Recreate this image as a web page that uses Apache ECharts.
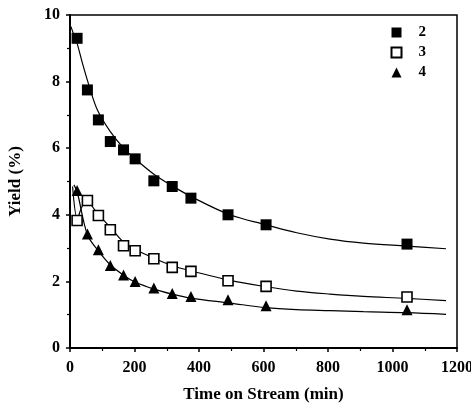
<!DOCTYPE html>
<html>
<head>
<meta charset="utf-8">
<script src="https://cdn.jsdelivr.net/npm/echarts@6/dist/echarts.min.js"></script>
<style>
  html, body { margin: 0; padding: 0; background: #fff; }
  #chart { width: 471px; height: 403px; }
</style>
</head>
<body>
<div id="chart"></div>
<script>
// Sampling times (min)
const times = [22, 54, 88, 125, 166, 202, 260, 317, 375, 490, 608, 1045];

// Measured yields (%)
const yield2 = [9.3, 7.75, 6.85, 6.2, 5.95, 5.68, 5.02, 4.85, 4.5, 4.0, 3.7, 3.12];
const yield3 = [3.83, 4.43, 3.98, 3.55, 3.07, 2.92, 2.68, 2.42, 2.30, 2.02, 1.85, 1.53];
const yield4 = [4.73, 3.42, 2.95, 2.48, 2.19, 2.0, 1.80, 1.64, 1.55, 1.45, 1.27, 1.15];

// Fitted trend curves, [time, yield]
const fit2 = [[3, 9.65], [12, 9.4], [22, 9.15], [40, 8.5], [60, 7.85], [85, 7.15], [125, 6.5],
  [165, 6.02], [202, 5.68], [260, 5.22], [317, 4.87], [375, 4.55], [496, 4.0], [608, 3.7],
  [703, 3.46], [806, 3.27], [910, 3.15], [1044, 3.06], [1166, 2.98]];
const fit3 = [[8, 4.85], [23, 3.88], [35, 4.2], [50, 4.42], [86, 4.03], [127, 3.6], [167, 3.17],
  [202, 2.96], [260, 2.7], [317, 2.47], [375, 2.32], [496, 2.03], [608, 1.84], [703, 1.71],
  [806, 1.62], [910, 1.55], [1044, 1.49], [1166, 1.42]];
const fit4 = [[12, 4.9], [22, 4.7], [54, 3.4], [88, 2.92], [125, 2.5], [167, 2.18], [202, 1.98],
  [260, 1.77], [317, 1.62], [375, 1.5], [496, 1.35], [608, 1.21], [703, 1.15], [806, 1.12],
  [910, 1.09], [1044, 1.06], [1166, 1.01]];

// Axis ticks
const xTicks = [0, 200, 400, 600, 800, 1000, 1200];
const yTicks = [0, 2, 4, 6, 8, 10];

const pair = (ys) => times.map((t, i) => [t, ys[i]]);
const fontFamily = '"Liberation Serif", "DejaVu Serif", serif';

const chart = echarts.init(document.getElementById('chart'), null, { renderer: 'canvas' });

const fitLine = (data) => ({
  type: 'line',
  data: data,
  smooth: 0.35,
  showSymbol: false,
  silent: true,
  lineStyle: { color: '#000', width: 1.2 },
  z: 2
});

const labelStyle = { fontFamily: fontFamily, fontWeight: 'bold', fontSize: 16, color: '#000' };

chart.setOption({
  animation: false,
  backgroundColor: '#fff',
  grid: {
    left: 70, right: 14, top: 15, bottom: 55,
    outerBoundsMode: 'none',
    containLabel: false,
    show: true,
    borderColor: '#000',
    borderWidth: 1.5
  },
  legend: {
    data: ['2', '3', '4'],
    orient: 'vertical',
    right: 40,
    top: 20,
    itemWidth: 10,
    itemHeight: 10,
    itemGap: 5,
    textStyle: Object.assign({}, labelStyle, { fontSize: 15, padding: [0, 0, 0, 12] })
  },
  xAxis: {
    type: 'value',
    min: xTicks[0],
    max: xTicks[xTicks.length - 1],
    interval: 200,
    name: 'Time on Stream (min)',
    nameLocation: 'middle',
    nameGap: 38,
    nameTextStyle: Object.assign({}, labelStyle, { fontSize: 17 }),
    axisLine: { lineStyle: { color: '#000', width: 2 } },
    axisTick: { length: 4, lineStyle: { color: '#000', width: 1.5 } },
    minorTick: { show: true, splitNumber: 2, length: 3, lineStyle: { color: '#000', width: 1.2 } },
    splitLine: { show: false },
    axisLabel: Object.assign({}, labelStyle, { margin: 12, formatter: (v) => String(v) })
  },
  yAxis: {
    type: 'value',
    min: yTicks[0],
    max: yTicks[yTicks.length - 1],
    interval: 2,
    name: 'Yield (%)',
    nameLocation: 'middle',
    nameGap: 46,
    nameTextStyle: Object.assign({}, labelStyle, { fontSize: 17 }),
    axisLine: { show: true, lineStyle: { color: '#000', width: 2 } },
    axisTick: { show: true, length: 4, lineStyle: { color: '#000', width: 1.5 } },
    minorTick: { show: true, splitNumber: 2, length: 3, lineStyle: { color: '#000', width: 1.2 } },
    splitLine: { show: false },
    axisLabel: Object.assign({}, labelStyle, { margin: 10, formatter: (v) => String(v) })
  },
  series: [
    fitLine(fit2),
    fitLine(fit3),
    fitLine(fit4),
    {
      name: '2',
      type: 'scatter',
      data: pair(yield2),
      symbol: 'rect',
      symbolSize: 11,
      itemStyle: { color: '#000', opacity: 1 },
      z: 5
    },
    {
      name: '3',
      type: 'scatter',
      data: pair(yield3),
      symbol: 'rect',
      symbolSize: 10,
      itemStyle: { color: '#fff', borderColor: '#000', borderWidth: 1.6, opacity: 1 },
      z: 5
    },
    {
      name: '4',
      type: 'scatter',
      data: pair(yield4),
      symbol: 'triangle',
      symbolSize: 11,
      itemStyle: { color: '#000', opacity: 1 },
      z: 5
    }
  ]
});
</script>
</body>
</html>
